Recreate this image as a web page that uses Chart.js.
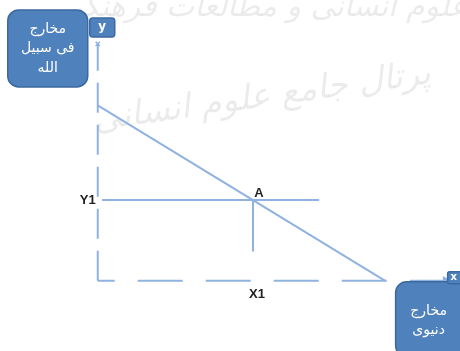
<!DOCTYPE html>
<html>
<head>
<meta charset="utf-8">
<script src="https://cdn.jsdelivr.net/npm/chart.js@4"></script>
<style>
  html, body { margin: 0; padding: 0; background: #fff; }
  canvas { display: block; }
</style>
</head>
<body>
<canvas id="chart" width="460" height="351"></canvas>
<script>
// Data (abstract units, origin at the axes corner)
const xAxisLine = [0, 12.1];        // x axis runs from 0 to its arrow
const yAxisLine = [0, 8.1];         // y axis runs from 0 to its arrow
const budgetX = [0, 10];            // downward sloping line
const budgetY = [6, 0];
const pointA = [5.4, 2.76];         // x1, y1
const y1GuideEnd = 7.7;             // horizontal line through A ends here
const x1GuideEnd = 1.0;             // vertical line from A stops here
const pointLabels = ['A', 'Y1', 'X1'];
const yBoxLines = ['مخارج', 'فی سبیل', 'الله'];
const xBoxLines = ['مخارج', 'دنیوی'];
const watermark = ['پژوهشگاه علوم انسانی و مطالعات فرهنگی', 'پرتال جامع علوم انسانی'];

const LINE = '#8fb2e0';
const BOX = '#4f81bd';
const BOX_EDGE = '#3c6a9f';

function roundBox(ctx, x, y, w, h, r) {
  ctx.beginPath();
  ctx.moveTo(x + r, y);
  ctx.arcTo(x + w, y, x + w, y + h, r);
  ctx.arcTo(x + w, y + h, x, y + h, r);
  ctx.arcTo(x, y + h, x, y, r);
  ctx.arcTo(x, y, x + w, y, r);
  ctx.closePath();
  ctx.fillStyle = BOX;
  ctx.fill();
  ctx.strokeStyle = BOX_EDGE;
  ctx.lineWidth = 1.5;
  ctx.stroke();
}

const decorPlugin = {
  id: 'decor',
  beforeDatasetsDraw(chart) {
    const ctx = chart.ctx;
    ctx.save();
    ctx.fillStyle = 'rgba(0,0,0,0.08)';
    ctx.textAlign = 'center';
    ctx.textBaseline = 'middle';
    ctx.font = 'italic 30px "DejaVu Sans"';
    ctx.fillText(watermark[0], 330, 8);
    ctx.translate(262, 98);
    ctx.rotate(-0.14);
    ctx.font = 'italic 34px "DejaVu Sans"';
    ctx.fillText(watermark[1], 0, 0);
    ctx.restore();
  },
  afterDatasetsDraw(chart) {
    const ctx = chart.ctx;
    const xs = chart.scales.x, ys = chart.scales.y;
    const ox = xs.getPixelForValue(0), oy = ys.getPixelForValue(0);
    const ax = xs.getPixelForValue(pointA[0]), ay = ys.getPixelForValue(pointA[1]);
    ctx.save();
    ctx.fillStyle = '#222';
    ctx.font = 'bold 13px "Liberation Sans"';
    ctx.textBaseline = 'middle';
    ctx.textAlign = 'center';
    ctx.fillText(pointLabels[0], ax + 6, ay - 7);
    ctx.textAlign = 'right';
    ctx.fillText(pointLabels[1], ox - 2, ay);
    ctx.textAlign = 'center';
    ctx.fillText(pointLabels[2], ax + 4, oy + 14);

    // y axis caption box
    const yTop = ys.getPixelForValue(yAxisLine[1]);
    roundBox(ctx, ox - 90, yTop - 34, 80, 77, 11);
    roundBox(ctx, ox - 8, yTop - 26, 25, 19, 3);
    ctx.fillStyle = '#fff';
    ctx.textAlign = 'center';
    ctx.font = 'bold 12px "DejaVu Sans"';
    ctx.fillText('y', ox + 4.5, yTop - 17);
    ctx.font = '14px "DejaVu Sans"';
    yBoxLines.forEach((t, i) => ctx.fillText(t, ox - 50, yTop - 15 + i * 19.5));

    // x axis caption box
    const xEnd = xs.getPixelForValue(xAxisLine[1]);
    roundBox(ctx, xEnd - 50, oy + 1, 75, 75, 11);
    roundBox(ctx, xEnd + 2, oy - 9, 20, 12, 2);
    ctx.fillStyle = '#fff';
    ctx.font = 'bold 10px "DejaVu Sans"';
    ctx.fillText('x', xEnd + 8, oy - 3);
    ctx.font = '14px "DejaVu Sans"';
    xBoxLines.forEach((t, i) => ctx.fillText(t, xEnd - 17, oy + 31 + i * 19));
    ctx.restore();
  }
};

new Chart(document.getElementById('chart'), {
  type: 'scatter',
  data: {
    datasets: [
      {
        // y axis
        data: [{ x: 0, y: yAxisLine[0] }, { x: 0, y: yAxisLine[1] }],
        showLine: true, borderColor: LINE, borderWidth: 2,
        borderDash: [30, 12],
        pointRadius: [0, 3], pointStyle: 'crossRot', pointBorderColor: LINE, pointBorderWidth: 1.5
      },
      {
        // x axis
        data: [{ x: xAxisLine[0], y: 0 }, { x: xAxisLine[1], y: 0 }],
        showLine: true, borderColor: LINE, borderWidth: 2,
        borderDash: [45, 23], borderDashOffset: 28,
        pointRadius: [0, 3.5], pointStyle: 'triangle', rotation: 90,
        pointBackgroundColor: LINE, pointBorderColor: LINE
      },
      {
        // budget line
        data: budgetX.map((x, i) => ({ x, y: budgetY[i] })),
        showLine: true, borderColor: LINE, borderWidth: 2, pointRadius: 0
      },
      {
        // Y1 guide
        data: [{ x: 0.15, y: pointA[1] }, { x: y1GuideEnd, y: pointA[1] }],
        showLine: true, borderColor: LINE, borderWidth: 2, pointRadius: 0
      },
      {
        // X1 guide
        data: [{ x: pointA[0], y: pointA[1] }, { x: pointA[0], y: x1GuideEnd }],
        showLine: true, borderColor: LINE, borderWidth: 2, pointRadius: 0
      }
    ]
  },
  options: {
    responsive: false,
    animation: false,
    devicePixelRatio: 1,
    layout: { padding: 0, autoPadding: false },
    plugins: { legend: { display: false }, tooltip: { enabled: false } },
    scales: {
      x: { type: 'linear', min: -3.4, max: 12.6, display: false },
      y: { type: 'linear', min: -2.4, max: 9.6, display: false }
    }
  },
  plugins: [decorPlugin]
});
</script>
</body>
</html>
